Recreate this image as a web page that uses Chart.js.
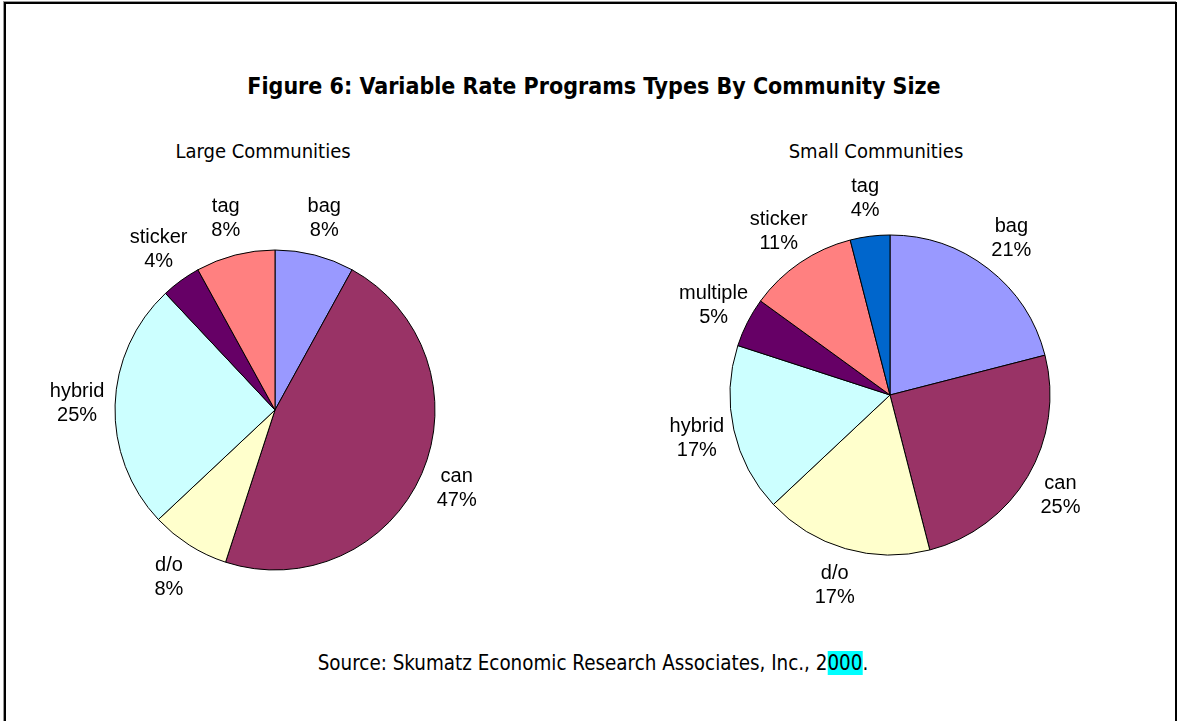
<!DOCTYPE html>
<html>
<head>
<meta charset="utf-8">
<script src="https://cdn.jsdelivr.net/npm/chart.js@4/dist/chart.umd.min.js"></script>
<style>
  html, body { margin: 0; padding: 0; background: #fff; width: 1177px; height: 721px; overflow: hidden; }
  #frame { position: absolute; left: 4px; top: 2px; width: 1169px; height: 740px; border: 2px solid #000; box-shadow: -1px -1px 0 #999; }
  .txt { position: absolute; white-space: nowrap; color: #000; font-family: "Liberation Sans Narrow", "DejaVu Sans Condensed", "Liberation Sans", sans-serif; transform: translateX(-50%); }
  #title { left: 594px; top: 73px; font-size: 23px; font-weight: bold; }
  #subL { left: 263px; top: 139px; font-size: 20px; }
  #subR { left: 876px; top: 139px; font-size: 20px; }
  #source { left: 593px; top: 651px; font-size: 20.4px; }
  #source .hl { background: #00ffff; }
  canvas { position: absolute; }
  #wrapL { position: absolute; left: -5px; top: 130px; width: 560px; height: 560px; }
  #wrapR { position: absolute; left: 610px; top: 115px; width: 560px; height: 560px; }
</style>
</head>
<body>
<div id="frame"></div>
<div class="txt" id="title">Figure 6: Variable Rate Programs Types By Community Size</div>
<div class="txt" id="subL">Large Communities</div>
<div class="txt" id="subR">Small Communities</div>
<div class="txt" id="source">Source: Skumatz Economic Research Associates, Inc., 2<span class="hl">000</span>.</div>
<div id="wrapL"><canvas id="cL"></canvas></div>
<div id="wrapR"><canvas id="cR"></canvas></div>
<script>
// ---- data ----
const largeLabels = ["bag", "can", "d/o", "hybrid", "sticker", "tag"];
const largeValues = [8, 47, 8, 25, 4, 8];
const largeColors = ["#9999FF", "#993366", "#FFFFCC", "#CCFFFF", "#660066", "#FF8080"];

const smallLabels = ["bag", "can", "d/o", "hybrid", "multiple", "sticker", "tag"];
const smallValues = [21, 25, 17, 17, 5, 11, 4];
const smallColors = ["#9999FF", "#993366", "#FFFFCC", "#CCFFFF", "#660066", "#FF8080", "#0066CC"];

const outsideLabels = {
  id: "outsideLabels",
  afterDatasetsDraw(chart) {
    const ctx = chart.ctx;
    const meta = chart.getDatasetMeta(0);
    const data = chart.data.datasets[0].data;
    const total = data.reduce((a, b) => a + b, 0);
    ctx.save();
    ctx.fillStyle = "#000";
    ctx.font = '20px "Liberation Sans", Arial, sans-serif';
    ctx.textAlign = "center";
    ctx.textBaseline = "middle";
    meta.data.forEach((arc, i) => {
      const p = arc.getProps(["x", "y", "startAngle", "endAngle", "outerRadius"], true);
      const mid = (p.startAngle + p.endAngle) / 2;
      const d = p.outerRadius + 38;
      const cx = p.x + Math.cos(mid) * d;
      const cy = p.y + Math.sin(mid) * d;
      const pct = Math.round(data[i] / total * 100) + "%";
      ctx.fillText(chart.data.labels[i], cx, cy - 12);
      ctx.fillText(pct, cx, cy + 12);
    });
    ctx.restore();
  }
};

function makePie(id, labels, values, colors) {
  return new Chart(document.getElementById(id), {
    type: "pie",
    data: {
      labels: labels,
      datasets: [{
        data: values,
        backgroundColor: colors,
        borderColor: "#000",
        borderWidth: 1
      }]
    },
    options: {
      responsive: true,
      maintainAspectRatio: false,
      animation: false,
      radius: 160,
      layout: { padding: 0 },
      plugins: { legend: { display: false }, tooltip: { enabled: false }, title: { display: false } },
      events: []
    },
    plugins: [outsideLabels]
  });
}

makePie("cL", largeLabels, largeValues, largeColors);
makePie("cR", smallLabels, smallValues, smallColors);
</script>
</body>
</html>
